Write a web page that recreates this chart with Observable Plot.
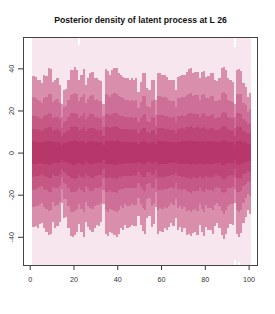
<!DOCTYPE html>
<html><head><meta charset="utf-8">
<script src="https://cdn.jsdelivr.net/npm/d3@7"></script>
<script src="https://cdn.jsdelivr.net/npm/@observablehq/plot@0.6"></script>
<style>body{margin:0;background:#fff}</style>
</head><body><div id="chart"></div>
<script>
const title = "Posterior density of latent process at L 26";
const xTicks = [0, 20, 40, 60, 80, 100];
const yTicks = [-40, -20, 0, 20, 40];
const index = d3.range(1, 101);

const outerHi = [58,58,58,58,58,58,58,58,58,58, 58,58,58,58,58,58,58,58,58,58, 58,51,58,58,58,58,58,58,58,58, 58,58,58,58,58,58,58,58,58,58, 58,58,58,58,58,58,58,58,58,58, 58,58,58,58,58,58,58,58,58,58, 58,58,58,58,58,58,58,58,58,58, 58,58,58,58,58,58,58,58,58,58, 58,58,58,58,58,58,58,58,58,58, 58,58,50,58,58,58,58,58,58,58];
const outerLo = [-58,-58,-58,-58,-58,-58,-58,-58,-58,-58, -58,-58,-58,-58,-58,-58,-58,-58,-58,-58, -58,-58,-58,-58,-58,-58,-58,-58,-58,-58, -58,-58,-58,-58,-58,-58,-58,-58,-58,-58, -58,-58,-58,-58,-58,-58,-58,-58,-58,-58, -58,-58,-58,-58,-58,-58,-58,-58,-58,-58, -58,-58,-58,-58,-58,-58,-58,-58,-58,-58, -58,-58,-58,-58,-58,-58,-58,-58,-58,-58, -58,-58,-58,-58,-58,-58,-58,-58,-58,-58, -58,-58,-51,-58,-52,-58,-58,-58,-58,-58];

const band1Hi = [36.3,36,34.7,34.7,32.9,36.8,36.3,40,39.5,33.6, 34.7,35.2,32,23.3,29.7,30,34.4,39.2,39.2,40.5, 39.2,34.4,36.8,39.5,32,35.2,38,38.4,35.2,35.2, 34.4,34,23.3,39.5,38.7,36.8,39.2,40,40,37.6, 36.8,36,35.2,35.2,34.7,35.2,34.4,35.2,28.9,33.6, 38,37.6,30.5,29.7,34.4,34.7,24.9,37.6,38,36.8, 36.8,36,34.7,34.4,34.4,29.7,36,36.3,36.8,36.8, 38.4,39.5,40,37.6,38.4,38.4,35.2,38.4,38.9,36, 36.3,37.6,38,34.4,34,35.2,40,40.5,39.2,35.2, 34.7,33.6,23.3,39.2,39.5,38.9,32.9,31.3,26.5,28.1];
const band1Lo = [-35.5,-35,-35.8,-34,-33.5,-36,-37.5,-39,-38.6,-33, -35.6,-35,-33,-24,-31,-30.5,-36,-39.8,-40.2,-39, -37.5,-34,-37.6,-40,-33,-35.5,-37,-37.8,-36,-34.6, -35,-33.2,-24.5,-38.5,-39.5,-37.6,-38.3,-39,-40.2,-38.6, -36,-36.8,-34.4,-35.8,-35.5,-34.5,-35,-34.8,-30,-34.5, -37.2,-38.6,-31,-30,-35.5,-34,-26,-38.5,-37.2,-37.5, -36,-36.8,-35.5,-33.6,-35,-31,-36.8,-35.5,-37.6,-36, -39,-38.6,-39.5,-38.4,-37.5,-39,-34.4,-37.8,-39.6,-35.2, -37,-36.8,-38.8,-35,-33.4,-36,-39.2,-41,-38.5,-36, -33.8,-34.4,-24,-38.5,-40.2,-38,-33.6,-30.5,-27.5,-29];

const band2Hi = [26.5,25.8,25,24.6,23.5,26,26.2,28,27.6,24, 24.8,25.3,23.6,17,21.5,22,24.8,27.5,27.8,28.2, 27.6,24.6,26.2,27.8,23.4,25.5,27,27.3,25,25.4, 24.6,24.3,17.2,27.6,27.2,26.2,27.8,28.2,28,26.8, 26.2,25.8,25.2,25,24.7,25.2,24.6,25.2,21,24, 27,26.8,22,21.5,24.6,24.8,18,26.8,27,26.3, 26.2,25.8,24.8,24.6,24.6,21.5,25.8,26,26.3,26.2, 27.3,28,28.3,26.8,27.3,27.3,25.2,27.3,27.6,25.8, 26,26.8,27,24.6,24.3,25.2,28.2,28.6,27.8,25.2, 24.7,24,17,27.8,28,27.6,23.5,22.5,19.5,20.5];
const band2Lo = [-25.8,-25.3,-25.6,-24.3,-24,-25.8,-26.8,-27.6,-27.3,-23.6, -25.4,-25,-23.6,-17.5,-22.2,-22,-25.6,-28,-28.4,-27.6, -26.6,-24.4,-26.8,-28.2,-23.6,-25.3,-26.4,-26.8,-25.6,-24.8, -25,-23.8,-17.8,-27.4,-28,-26.8,-27.2,-27.6,-28.3,-27.4, -25.6,-26.2,-24.6,-25.5,-25.3,-24.6,-25,-24.8,-21.6,-24.6, -26.5,-27.4,-22.2,-21.6,-25.3,-24.3,-18.6,-27.3,-26.5,-26.8, -25.8,-26.2,-25.3,-24,-25,-22,-26.2,-25.3,-26.8,-25.8, -27.7,-27.4,-28,-27.3,-26.8,-27.6,-24.6,-26.8,-28.1,-25, -26.4,-26.2,-27.5,-25,-23.8,-25.6,-27.8,-29,-27.4,-25.6, -24.2,-24.6,-17.5,-27.4,-28.4,-27.2,-24,-21.8,-19.8,-20.8];

const band3Half = [17.6,17.2,16.8,16.5,16,17.4,17.8,18.8,18.5,16.2, 16.8,17,16,11.8,14.6,14.8,16.8,18.6,18.8,18.9, 18.4,16.6,17.6,18.7,15.8,17,18.1,18.3,17,16.9, 16.6,16.3,12,18.5,18.5,17.7,18.5,18.8,19,18, 17.5,17.4,16.9,17,16.8,16.9,16.6,16.9,14.3,16.3, 18,18.1,14.8,14.5,16.7,16.6,12.6,18,18,17.8, 17.5,17.4,16.9,16.4,16.7,14.6,17.4,17.3,17.8,17.5, 18.4,18.6,19,18.1,18.2,18.4,16.9,18.2,18.6,17.2, 17.6,17.9,18.2,16.6,16.2,17,18.8,19.2,18.6,17, 16.6,16.3,11.8,18.6,18.9,18.4,15.9,15.1,13.4,14];
const band4Half = [11.4,11.2,10.9,10.6,10.3,11.3,11.6,12.3,12.1,10.4, 10.9,11,10.3,7.8,9.4,9.6,10.9,12.1,12.2,12.4, 12,10.7,11.4,12.2,10.2,11,11.8,11.9,11,10.9, 10.8,10.6,7.9,12,12,11.5,12,12.2,12.4,11.7, 11.4,11.3,11,11,10.9,11,10.8,11,9.3,10.6, 11.7,11.8,9.6,9.4,10.8,10.8,8.3,11.7,11.7,11.6, 11.4,11.3,11,10.7,10.8,9.5,11.3,11.2,11.6,11.4, 12,12.1,12.4,11.8,11.9,12,11,11.9,12.1,11.2, 11.4,11.6,11.8,10.8,10.5,11,12.2,12.5,12.1,11, 10.8,10.6,7.8,12.1,12.3,12,10.3,9.8,8.7,9.1];
const band5Half = [5.3,5.2,5,4.9,4.8,5.2,5.4,5.7,5.6,4.8, 5,5.1,4.8,3.6,4.4,4.5,5,5.6,5.7,5.8, 5.6,5,5.3,5.7,4.7,5.1,5.5,5.5,5.1,5, 5,4.9,3.7,5.6,5.6,5.3,5.6,5.7,5.8,5.4, 5.3,5.2,5.1,5.1,5,5.1,5,5.1,4.3,4.9, 5.4,5.5,4.5,4.4,5,5,3.9,5.4,5.4,5.4, 5.3,5.2,5.1,5,5,4.4,5.2,5.2,5.4,5.3, 5.6,5.6,5.8,5.5,5.5,5.6,5.1,5.5,5.6,5.2, 5.3,5.4,5.5,5,4.9,5.1,5.7,5.8,5.6,5.1, 5,4.9,3.6,5.6,5.7,5.6,4.8,4.6,4.1,4.2];

const bandColors = ["#f7e6ed", "#d98fac", "#ce6f98", "#c65886", "#be4677", "#b7376b"];

const bands = [
  index.map((t, i) => ({t, lo: outerLo[i], hi: outerHi[i]})),
  index.map((t, i) => ({t, lo: band1Lo[i], hi: band1Hi[i]})),
  index.map((t, i) => ({t, lo: band2Lo[i], hi: band2Hi[i]})),
  index.map((t, i) => ({t, lo: -band3Half[i], hi: band3Half[i]})),
  index.map((t, i) => ({t, lo: -band4Half[i], hi: band4Half[i]})),
  index.map((t, i) => ({t, lo: -band5Half[i], hi: band5Half[i]}))
];

const font = "'Liberation Sans', Arial, Helvetica, sans-serif";

const chart = Plot.plot({
  width: 275,
  height: 314,
  marginLeft: 23,
  marginRight: 18,
  marginTop: 37,
  marginBottom: 49,
  style: {fontFamily: font, background: "#fff", color: "#333"},
  x: {domain: [-3.06, 103.84], ticks: xTicks, tickSize: 5, tickFormat: () => "", label: null},
  y: {domain: [-53.4, 54.9], ticks: yTicks, tickSize: 5, tickFormat: () => "", label: null},
  marks: [
    ...bands.map((b, k) => Plot.rect(b, {
      x1: d => d.t + 0.2, x2: d => d.t + 1.2, y1: "lo", y2: "hi",
      fill: bandColors[k], shapeRendering: "crispEdges", clip: true
    })),
    Plot.frame({stroke: "#444", strokeWidth: 1}),
    Plot.text(xTicks, {x: d => d, text: d => String(d), frameAnchor: "bottom", dy: 14.5, lineAnchor: "middle", fontSize: 7.2, fill: "#333"}),
    Plot.text(yTicks, {y: d => d, text: d => String(d), frameAnchor: "left", dx: -12.2, rotate: -90, textAnchor: "middle", lineAnchor: "middle", fontSize: 7.2, fill: "#333"}),
    Plot.text([title], {text: d => d, frameAnchor: "top", dy: -17, lineAnchor: "middle", fontSize: 8.7, fontWeight: "bold", fill: "#111"})
  ]
});
document.getElementById("chart").appendChild(chart);
</script>
</body></html>
